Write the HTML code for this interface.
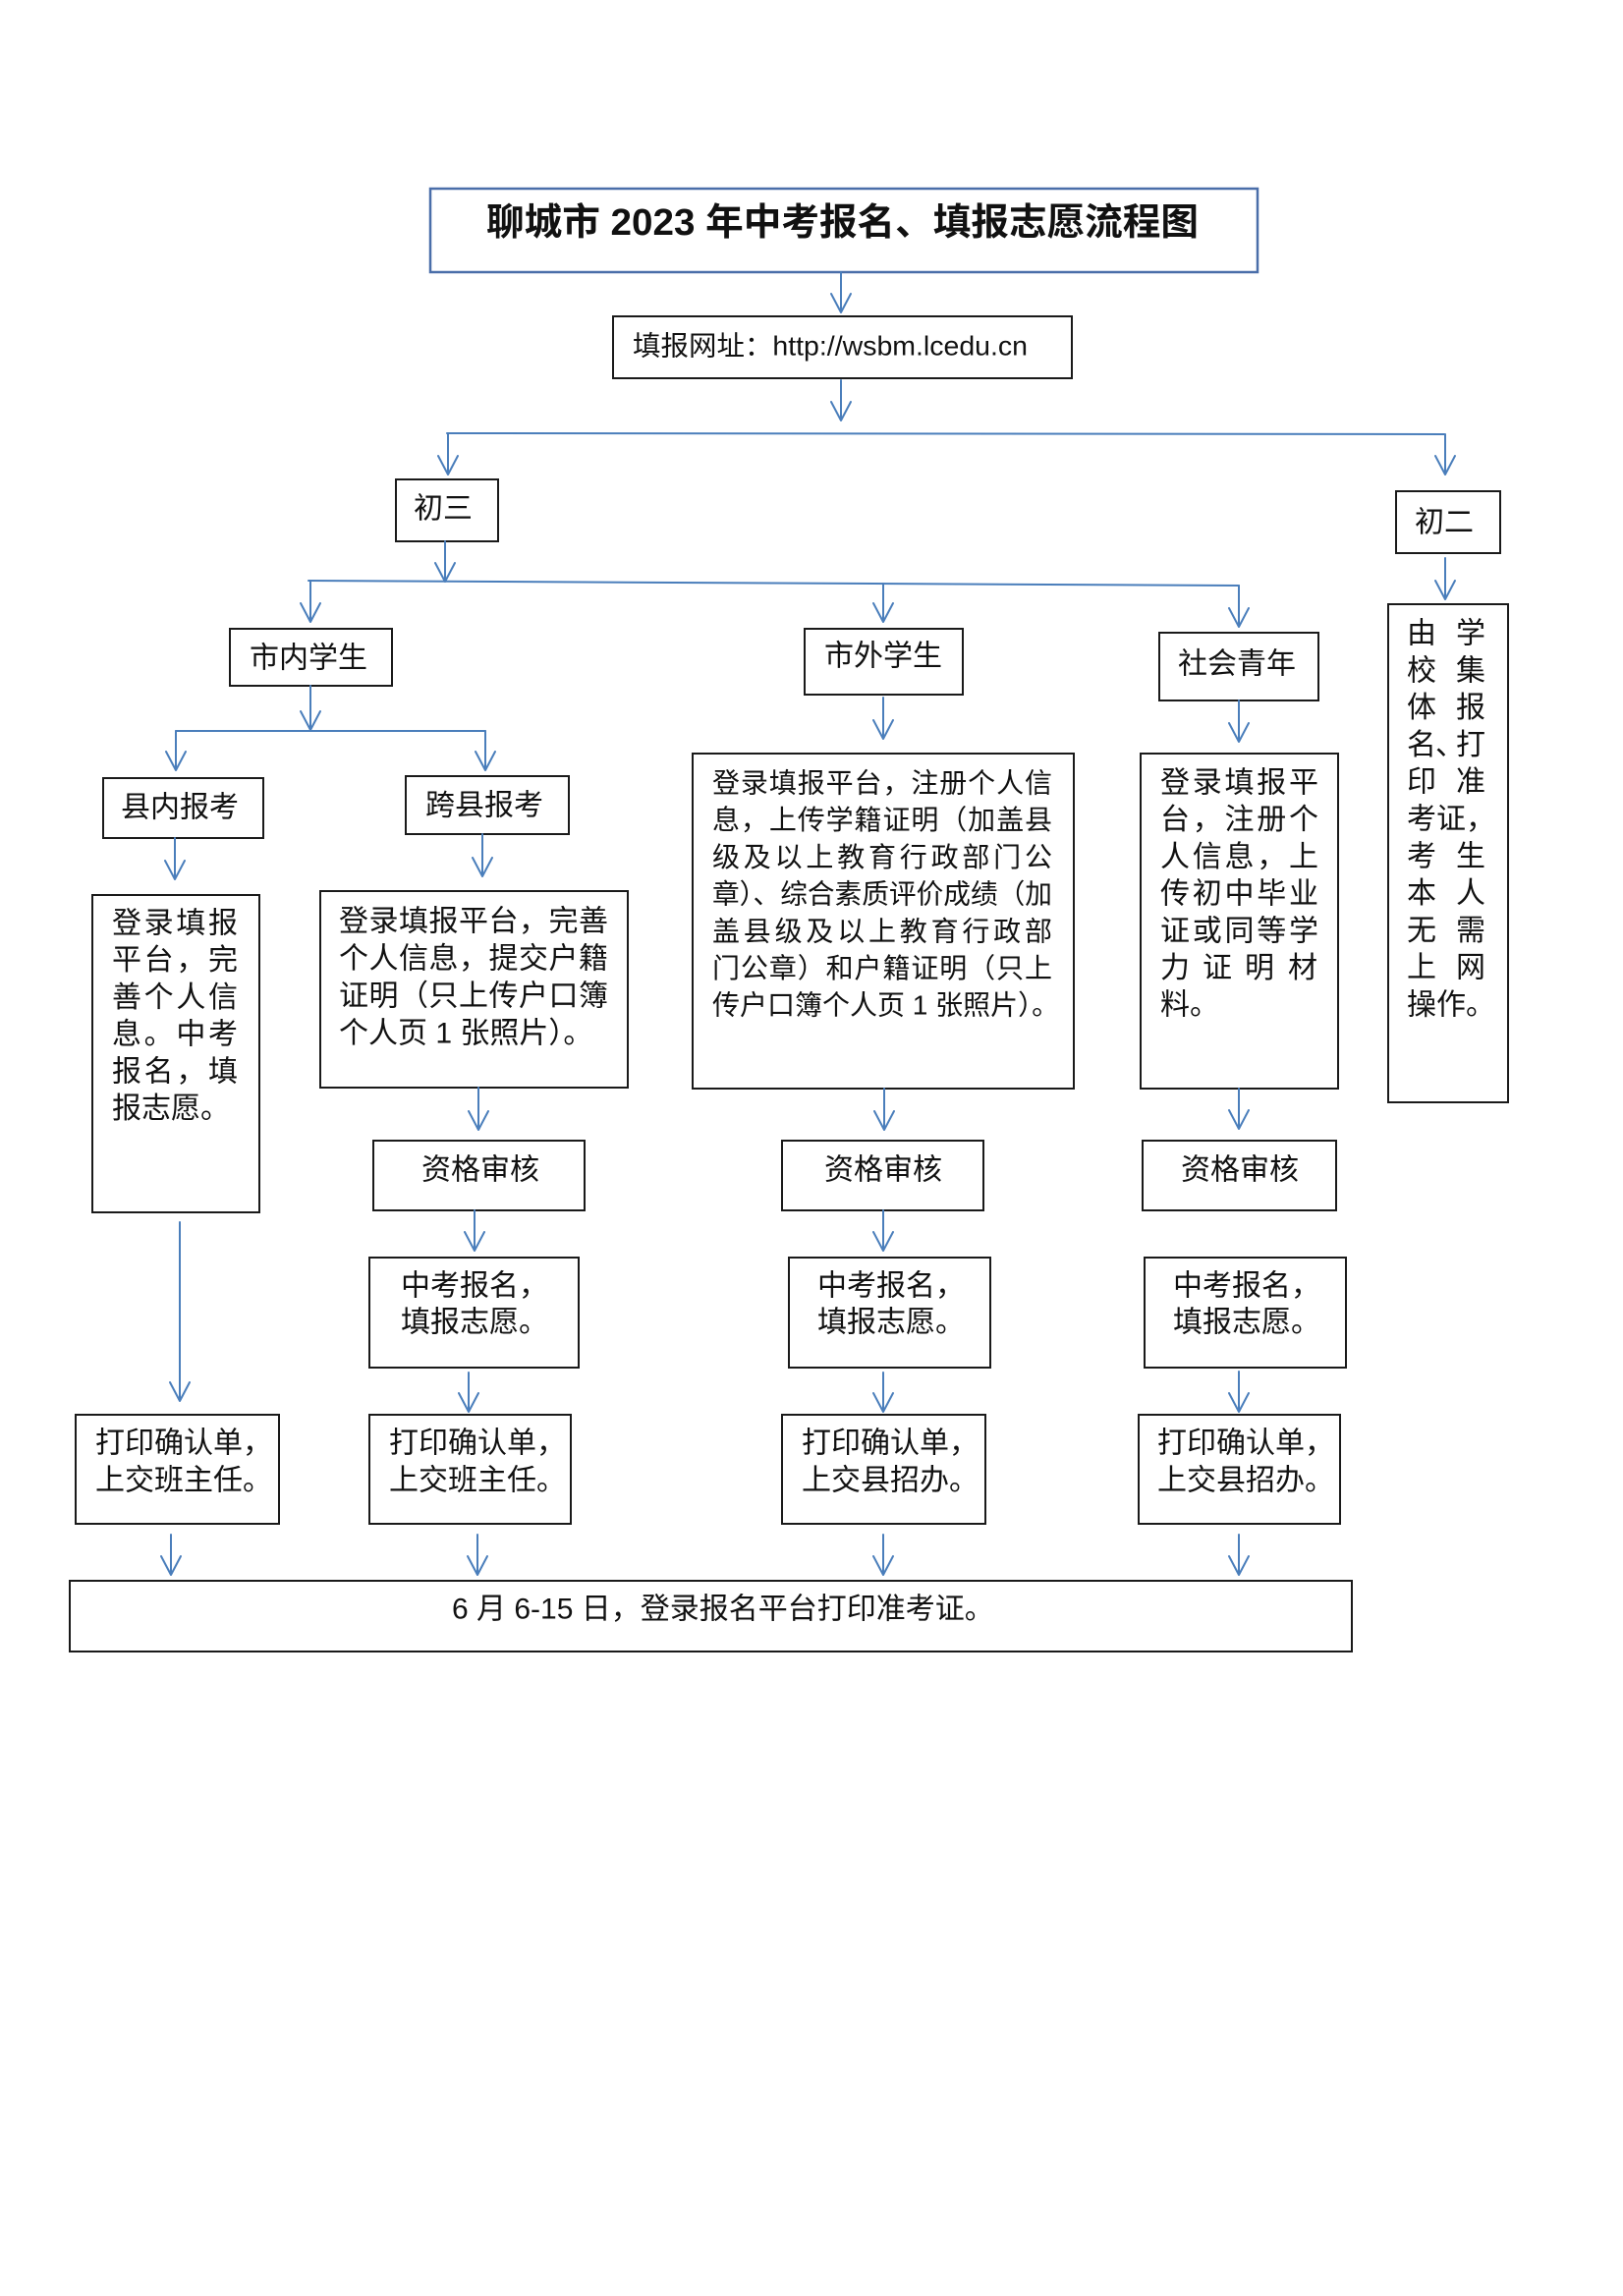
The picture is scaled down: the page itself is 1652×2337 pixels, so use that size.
<!DOCTYPE html>
<html>
<head>
<meta charset="utf-8">
<style>
html,body{margin:0;padding:0;background:#fff;}
svg{display:block;}
text{font-family:"Liberation Sans","Noto Sans CJK SC",sans-serif;fill:#111;dominant-baseline:central;}
.box{fill:#fff;stroke:#1a1a1a;stroke-width:2;}
.arr{fill:none;stroke:#4a7ebb;stroke-width:2;stroke-linecap:round;stroke-linejoin:round;}
</style>
</head>
<body>
<svg width="1652" height="2337" viewBox="0 0 1652 2337" xmlns="http://www.w3.org/2000/svg">
<rect x="0" y="0" width="1652" height="2337" fill="#fff"/>

<!-- Boxes -->
<rect x="438" y="192" width="842" height="85" fill="#fff" stroke="#4a6ea9" stroke-width="2.5"/>
<rect class="box" x="624" y="322" width="467" height="63"/>
<rect class="box" x="403" y="488" width="104" height="63"/>
<rect class="box" x="1421" y="500" width="106" height="63"/>
<rect class="box" x="234" y="640" width="165" height="58"/>
<rect class="box" x="819" y="640" width="161" height="67"/>
<rect class="box" x="1180" y="644" width="162" height="69"/>
<rect class="box" x="1413" y="615" width="122" height="507"/>
<rect class="box" x="105" y="792" width="163" height="61"/>
<rect class="box" x="413" y="790" width="166" height="59"/>
<rect class="box" x="94" y="911" width="170" height="323"/>
<rect class="box" x="326" y="907" width="313" height="200"/>
<rect class="box" x="705" y="767" width="388" height="341"/>
<rect class="box" x="1161" y="767" width="201" height="341"/>
<rect class="box" x="380" y="1161" width="215" height="71"/>
<rect class="box" x="796" y="1161" width="205" height="71"/>
<rect class="box" x="1163" y="1161" width="197" height="71"/>
<rect class="box" x="376" y="1280" width="213" height="112"/>
<rect class="box" x="803" y="1280" width="205" height="112"/>
<rect class="box" x="1165" y="1280" width="205" height="112"/>
<rect class="box" x="77" y="1440" width="207" height="111"/>
<rect class="box" x="376" y="1440" width="205" height="111"/>
<rect class="box" x="796" y="1440" width="207" height="111"/>
<rect class="box" x="1159" y="1440" width="205" height="111"/>
<rect class="box" x="71" y="1609" width="1305" height="72"/>

<!-- Connectors -->
<g class="arr">
<path d="M856 277V318M846 299L856 318L866 299"/>
<path d="M856 387V428M846 409L856 428L866 409"/>
<path d="M455 441L1470 442"/>
<path d="M456 441V483M446 464L456 483L466 464"/>
<path d="M1471 442V483M1461 464L1471 483L1481 464"/>
<path d="M453 551V592M443 573L453 592L463 573"/>
<path d="M314 591L1261 596"/>
<path d="M316 591V633M306 614L316 633L326 614"/>
<path d="M899 594V633M889 614L899 633L909 614"/>
<path d="M1261 596V638M1251 619L1261 638L1271 619"/>
<path d="M1471 568V610M1461 591L1471 610L1481 591"/>
<path d="M316 698V743M306 724L316 743L326 724"/>
<path d="M179 744L494 744"/>
<path d="M179 744V784M169 765L179 784L189 765"/>
<path d="M494 744V784M484 765L494 784L504 765"/>
<path d="M178 853V895M168 876L178 895L188 876"/>
<path d="M491 849V892M481 873L491 892L501 873"/>
<path d="M899 710V752M889 733L899 752L909 733"/>
<path d="M1261 713V755M1251 736L1261 755L1271 736"/>
<path d="M487 1107V1150M477 1131L487 1150L497 1131"/>
<path d="M900 1108V1150M890 1131L900 1150L910 1131"/>
<path d="M1261 1108V1149M1251 1130L1261 1149L1271 1130"/>
<path d="M483 1232V1273M473 1254L483 1273L493 1254"/>
<path d="M899 1232V1273M889 1254L899 1273L909 1254"/>
<path d="M477 1397V1437M467 1418L477 1437L487 1418"/>
<path d="M899 1397V1437M889 1418L899 1437L909 1418"/>
<path d="M1261 1396V1437M1251 1418L1261 1437L1271 1418"/>
<path d="M183 1244V1426M173 1407L183 1426L193 1407"/>
<path d="M174 1562V1603M164 1584L174 1603L184 1584"/>
<path d="M486 1562V1603M476 1584L486 1603L496 1584"/>
<path d="M899 1562V1603M889 1584L899 1603L909 1584"/>
<path d="M1261 1562V1603M1251 1584L1261 1603L1271 1584"/>
</g>

<!-- Title and URL -->
<text x="495" y="227" font-size="38" font-weight="bold" textLength="725" lengthAdjust="spacingAndGlyphs">聊城市 2023 年中考报名、填报志愿流程图</text>
<text x="644" y="352" font-size="28" textLength="402" lengthAdjust="spacingAndGlyphs">填报网址：http://wsbm.lcedu.cn</text>

<!-- Labels -->
<g font-size="30">
<text x="421" y="518">初三</text>
<text x="1440" y="532">初二</text>
<text x="254" y="670">市内学生</text>
<text x="839" y="668">市外学生</text>
<text x="1199" y="676">社会青年</text>
<text x="123" y="822">县内报考</text>
<text x="433" y="820">跨县报考</text>

<text x="429" y="1191">资格审核</text>
<text x="839" y="1191">资格审核</text>
<text x="1202" y="1191">资格审核</text>

<text x="408" y="1309">中考报名，</text>
<text x="408" y="1346">填报志愿。</text>
<text x="832" y="1309">中考报名，</text>
<text x="832" y="1346">填报志愿。</text>
<text x="1194" y="1309">中考报名，</text>
<text x="1194" y="1346">填报志愿。</text>

<text x="97" y="1469">打印确认单，</text>
<text x="97" y="1507">上交班主任。</text>
<text x="396" y="1469">打印确认单，</text>
<text x="396" y="1507">上交班主任。</text>
<text x="816" y="1469">打印确认单，</text>
<text x="816" y="1507">上交县招办。</text>
<text x="1178" y="1469">打印确认单，</text>
<text x="1178" y="1507">上交县招办。</text>

<text x="460" y="1638">6 月 6-15 日，登录报名平台打印准考证。</text>
</g>

<!-- 县内 content -->
<g font-size="30">
<text x="114" y="940" textLength="128" lengthAdjust="spacing">登录填报</text>
<text x="114" y="977.7" textLength="128" lengthAdjust="spacing">平台，完</text>
<text x="114" y="1015.4" textLength="128" lengthAdjust="spacing">善个人信</text>
<text x="114" y="1053" textLength="128" lengthAdjust="spacing">息。中考</text>
<text x="114" y="1090.8" textLength="128" lengthAdjust="spacing">报名，填</text>
<text x="114" y="1128.5">报志愿。</text>
</g>

<!-- 跨县 content -->
<g font-size="30">
<text x="345" y="938" textLength="274" lengthAdjust="spacing">登录填报平台，完善</text>
<text x="345" y="976" textLength="274" lengthAdjust="spacing">个人信息，提交户籍</text>
<text x="345" y="1014" textLength="274" lengthAdjust="spacing">证明（只上传户口簿</text>
<text x="345" y="1052">个人页 1 张照片）。</text>
</g>

<!-- 市外 content -->
<g font-size="28">
<text x="725" y="797" textLength="346" lengthAdjust="spacing">登录填报平台，注册个人信</text>
<text x="725" y="834.7" textLength="346" lengthAdjust="spacing">息，上传学籍证明（加盖县</text>
<text x="725" y="872.4" textLength="346" lengthAdjust="spacing">级及以上教育行政部门公</text>
<text x="725" y="910" textLength="346" lengthAdjust="spacingAndGlyphs">章）、综合素质评价成绩（加</text>
<text x="725" y="947.8" textLength="346" lengthAdjust="spacing">盖县级及以上教育行政部</text>
<text x="725" y="985.5" textLength="346" lengthAdjust="spacing">门公章）和户籍证明（只上</text>
<text x="725" y="1023">传户口簿个人页 1 张照片）。</text>
</g>

<!-- 社会青年 content -->
<g font-size="30">
<text x="1181" y="797" textLength="161" lengthAdjust="spacing">登录填报平</text>
<text x="1181" y="834.7" textLength="161" lengthAdjust="spacing">台，注册个</text>
<text x="1181" y="872.4" textLength="161" lengthAdjust="spacing">人信息，上</text>
<text x="1181" y="910" textLength="161" lengthAdjust="spacing">传初中毕业</text>
<text x="1181" y="947.8" textLength="161" lengthAdjust="spacing">证或同等学</text>
<text x="1181" y="985.5">力</text>
<text x="1224" y="985.5">证</text>
<text x="1267" y="985.5">明</text>
<text x="1311" y="985.5">材</text>
<text x="1181" y="1023">料。</text>
</g>

<!-- 初二 content -->
<g font-size="30">
<text x="1432" y="645">由</text><text x="1482" y="645">学</text>
<text x="1432" y="682.8">校</text><text x="1482" y="682.8">集</text>
<text x="1432" y="720.6">体</text><text x="1482" y="720.6">报</text>
<text x="1432" y="758.4">名</text><text x="1461" y="758.4">、</text><text x="1482" y="758.4">打</text>
<text x="1432" y="796.2">印</text><text x="1482" y="796.2">准</text>
<text x="1432" y="834">考证，</text>
<text x="1432" y="871.8">考</text><text x="1482" y="871.8">生</text>
<text x="1432" y="909.6">本</text><text x="1482" y="909.6">人</text>
<text x="1432" y="947.4">无</text><text x="1482" y="947.4">需</text>
<text x="1432" y="985.2">上</text><text x="1482" y="985.2">网</text>
<text x="1432" y="1023">操作。</text>
</g>
</svg>
</body>
</html>
